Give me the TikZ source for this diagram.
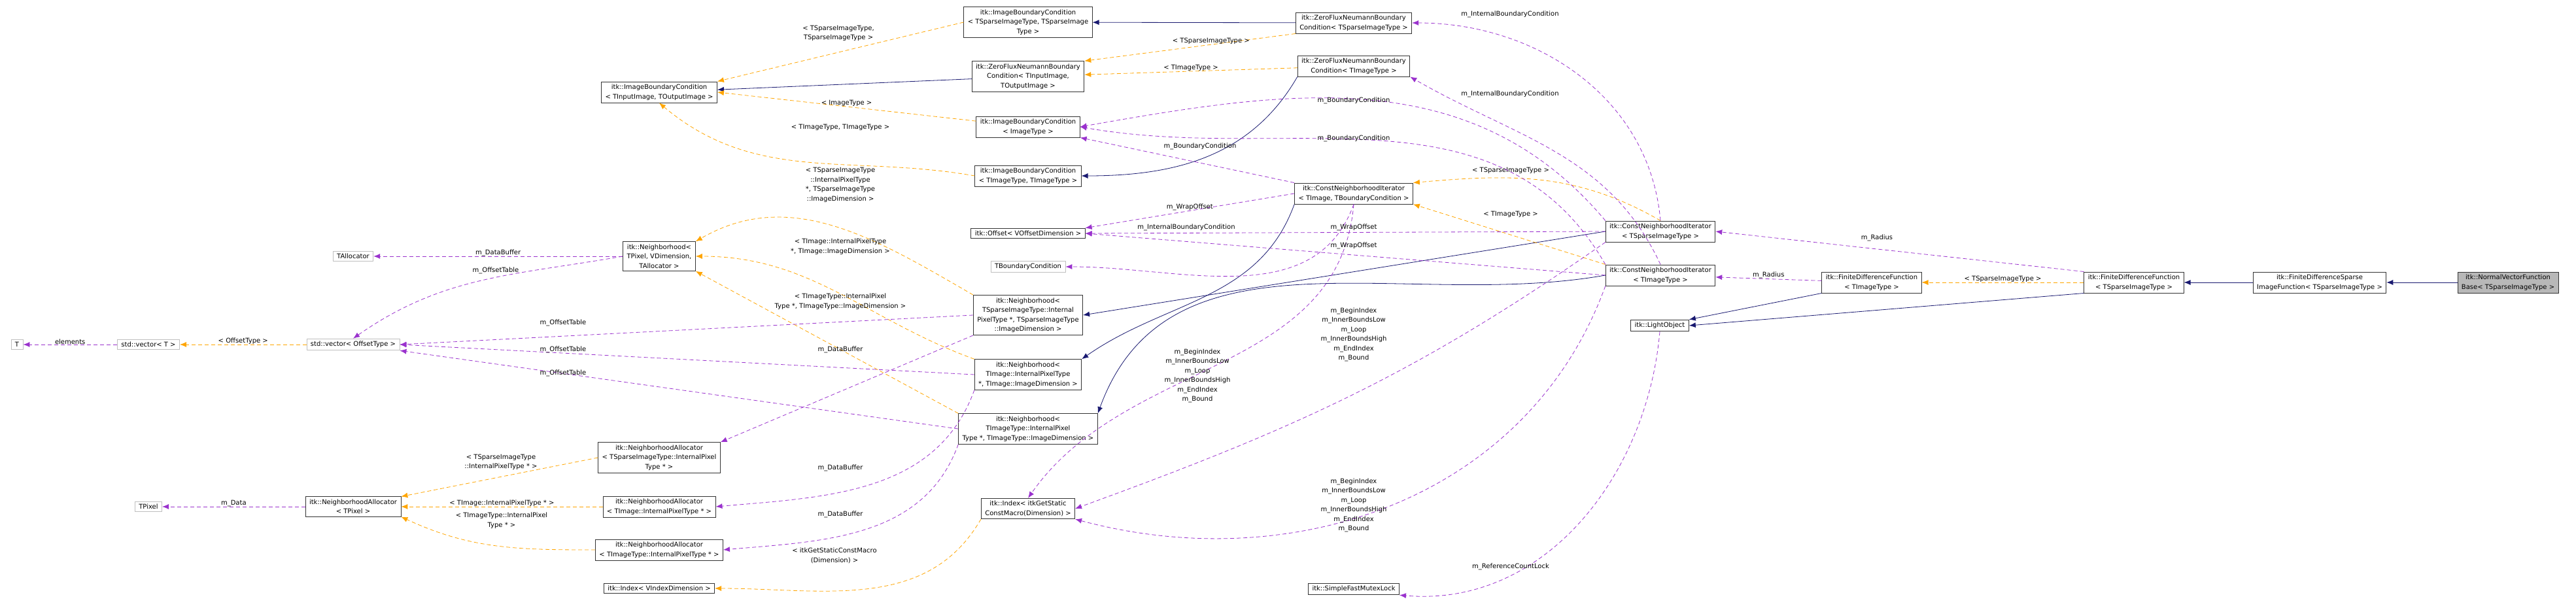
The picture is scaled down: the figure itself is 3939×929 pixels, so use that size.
\documentclass[tikz,border=0pt]{standalone}
\usepackage{fontspec}
\setmainfont{DejaVu Sans}
\usepackage{tikz}
\usepackage{xcolor}
\usetikzlibrary{arrows.meta,calc,shapes}
\definecolor{inherit}{HTML}{191970}
\definecolor{usage}{HTML}{9A32CD}
\definecolor{templ}{HTML}{FFA500}
\tikzset{every picture/.style={x=1pt,y=-1pt,>={Latex[length=10pt,width=8pt]},font=\fontsize{10}{14.5}\selectfont}}
\tikzstyle{cls} =
  [ rectangle
  , draw=black!80
  , thick
  , fill=white
  , align=center
  , inner xsep=6pt
  , inner ysep=4pt
  ]
\tikzstyle{ext} =
  [ cls
  , draw=black!25
  ]
\tikzstyle{self} =
  [ cls
  , fill=black!28
  ]
\tikzstyle{lbl} =
  [ align=center
  , inner sep=0pt
  , text=black
  ]
\tikzstyle{base} = [->, inherit, thick]
\tikzstyle{use}  = [->, usage, thick, dash pattern=on 6pt off 4pt]
\tikzstyle{tmpl} = [->, templ, thick, dash pattern=on 6pt off 4pt]

\begin{document}
\begin{tikzpicture}
    \useasboundingbox (0,0) rectangle (3939,929);
    % left column
    \node[ext] (t)          at (26, 527)  {T};
    \node[ext] (vec_t)      at (227, 527) {std::vector< T >};
    \node[ext] (vec_off)    at (540, 527) {std::vector< OffsetType >};
    \node[ext] (talloc)     at (540, 392) {TAllocator};
    \node[ext] (tpixel)     at (227, 775) {TPixel};
    \node[cls] (na_pixel)   at (540, 775) {itk::NeighborhoodAllocator\\< TPixel >};

    \node[cls] (ibc_io)     at (1008, 141) {itk::ImageBoundaryCondition\\< TInputImage, TOutputImage >};
    \node[cls] (nb_pixel)   at (1008, 392) {itk::Neighborhood<\\TPixel, VDimension,\\TAllocator >};
    \node[cls] (na_sparse)  at (1008, 700) {itk::NeighborhoodAllocator\\< TSparseImageType::InternalPixel\\Type * >};
    \node[cls] (na_image)   at (1008, 775) {itk::NeighborhoodAllocator\\< TImage::InternalPixelType * >};
    \node[cls] (na_imtype)  at (1008, 841) {itk::NeighborhoodAllocator\\< TImageType::InternalPixelType * >};
    \node[cls] (idx_v)      at (1008, 900) {itk::Index< VIndexDimension >};

    \node[cls] (ibc_sparse) at (1572, 34)  {itk::ImageBoundaryCondition\\< TSparseImageType, TSparseImage\\Type >};
    \node[cls] (zfn_io)     at (1572, 117) {itk::ZeroFluxNeumannBoundary\\Condition< TInputImage,\\TOutputImage >};
    \node[cls] (ibc_img)    at (1572, 194) {itk::ImageBoundaryCondition\\< ImageType >};
    \node[cls] (ibc_imtype) at (1572, 269) {itk::ImageBoundaryCondition\\< TImageType, TImageType >};
    \node[cls] (offset)     at (1572, 357) {itk::Offset< VOffsetDimension >};
    \node[ext] (tbc)        at (1572, 408) {TBoundaryCondition};
    \node[cls] (nb_sparse)  at (1572, 482) {itk::Neighborhood<\\TSparseImageType::Internal\\PixelType *, TSparseImageType\\::ImageDimension >};
    \node[cls] (nb_image)   at (1572, 573) {itk::Neighborhood<\\TImage::InternalPixelType\\*, TImage::ImageDimension >};
    \node[cls] (nb_imtype)  at (1572, 656) {itk::Neighborhood<\\TImageType::InternalPixel\\Type *, TImageType::ImageDimension >};
    \node[cls] (idx_dim)    at (1572, 778) {itk::Index< itkGetStatic\\ConstMacro(Dimension) >};

    \node[cls] (zfn_sparse) at (2070, 35)  {itk::ZeroFluxNeumannBoundary\\Condition< TSparseImageType >};
    \node[cls] (zfn_imtype) at (2070, 101) {itk::ZeroFluxNeumannBoundary\\Condition< TImageType >};
    \node[cls] (cni_bc)     at (2070, 296) {itk::ConstNeighborhoodIterator\\< TImage, TBoundaryCondition >};
    \node[cls] (mutex)      at (2070, 901) {itk::SimpleFastMutexLock};

    % right part
    \node[cls] (cni_sparse) at (2539, 354) {itk::ConstNeighborhoodIterator\\< TSparseImageType >};
    \node[cls] (cni_imtype) at (2539, 421) {itk::ConstNeighborhoodIterator\\< TImageType >};
    \node[cls] (light)      at (2538, 498) {itk::LightObject};
    \node[cls] (fdf_imtype) at (2862, 432) {itk::FiniteDifferenceFunction\\< TImageType >};
    \node[cls] (fdf_sparse) at (3263, 432) {itk::FiniteDifferenceFunction\\< TSparseImageType >};
    \node[cls] (fdsif)      at (3547, 432) {itk::FiniteDifferenceSparse\\ImageFunction< TSparseImageType >};
    \node[self] (nvfb)      at (3835, 432) {itk::NormalVectorFunction\\Base< TSparseImageType >};

    % inheritance
    \draw[base] (nvfb) -- (fdsif);
    \draw[base] (fdsif) -- (fdf_sparse);
    \draw[base] (fdf_sparse.south west) -- (light.east);
    \draw[base] (fdf_imtype.south west) -- (light.north east);
    \draw[base] (zfn_sparse) -- (ibc_sparse);
    \draw[base] (zfn_io) -- (ibc_io);
    \draw[base] (zfn_imtype.south west) to[out=240,in=0] (ibc_imtype.east);
    \draw[base] (cni_sparse.west) -- (nb_sparse.east);
    \draw[base] (cni_bc.south west) to[out=250,in=35] (nb_image.north east);
    \draw[base] (cni_imtype.west) to[out=190,in=70] (nb_imtype.north east);

    % template instances
    \draw[tmpl] (vec_off) -- node[lbl,above] (l_offtype) {< OffsetType >} (vec_t);
    \draw[tmpl] (na_sparse.west) -- (na_pixel.north east);
    \node[lbl] (l_na_sparse) at (766, 707) {< TSparseImageType\\::InternalPixelType * >};
    \draw[tmpl] (na_image) -- node[lbl,above] (l_na_image) {< TImage::InternalPixelType * >} (na_pixel);
    \draw[tmpl] (na_imtype.west) to[out=180,in=-25] (na_pixel.south east);
    \node[lbl] (l_na_imtype) at (767, 796) {< TImageType::InternalPixel\\Type * >};
    \draw[tmpl] (nb_sparse.north west) to[out=150,in=30] (nb_pixel.north east);
    \node[lbl] (l_nb_sparse) at (1285, 283) {< TSparseImageType\\::InternalPixelType\\*, TSparseImageType\\::ImageDimension >};
    \draw[tmpl] (nb_image.north west) to[out=160,in=0] (nb_pixel.east);
    \node[lbl] (l_nb_image) at (1285, 377) {< TImage::InternalPixelType\\*, TImage::ImageDimension >};
    \draw[tmpl] (nb_imtype.north west) -- (nb_pixel.south east);
    \node[lbl] (l_nb_imtype) at (1285, 461) {< TImageType::InternalPixel\\Type *, TImageType::ImageDimension >};
    \draw[tmpl] (ibc_sparse.west) -- (ibc_io.north east);
    \node[lbl] (l_ibc_sparse) at (1282, 51) {< TSparseImageType,\\TSparseImageType >};
    \draw[tmpl] (ibc_img) -- node[lbl,above] (l_ibc_img) {< ImageType >} (ibc_io.east);
    \draw[tmpl] (ibc_imtype.west) to[out=170,in=-40] (ibc_io.south);
    \node[lbl] (l_ibc_imtype) at (1285, 195) {< TImageType, TImageType >};
    \draw[tmpl] (zfn_sparse.south west) -- node[lbl,above,pos=0.4] (l_zfn_sparse) {< TSparseImageType >} (zfn_io.north east);
    \draw[tmpl] (zfn_imtype) -- node[lbl,above] (l_zfn_imtype) {< TImageType >} (zfn_io);
    \draw[tmpl] (cni_sparse.north) to[out=150,in=5] (cni_bc.north east);
    \node[lbl] (l_cni_sparse) at (2310, 261) {< TSparseImageType >};
    \draw[tmpl] (cni_imtype.north west) -- (cni_bc.south east);
    \node[lbl] (l_cni_imtype) at (2310, 328) {< TImageType >};
    \draw[tmpl] (idx_dim.south west) to[out=240,in=0] (idx_v.east);
    \node[lbl] (l_idx_dim) at (1276, 850) {< itkGetStaticConstMacro\\(Dimension) >};
    \draw[tmpl] (fdf_sparse) -- node[lbl,above] (l_fdf_sparse) {< TSparseImageType >} (fdf_imtype);

    % members
    \draw[use] (na_pixel) -- node[lbl,above] (l_data) {m\_Data} (tpixel);
    \draw[use] (vec_t) -- node[lbl,above] (l_elem) {elements} (t);
    \draw[use] (nb_pixel) -- node[lbl,above] (l_buf0) {m\_DataBuffer} (talloc);
    \draw[use] (nb_pixel.west) to[out=190,in=35] (vec_off.north);
    \node[lbl] (l_off0) at (758, 414) {m\_OffsetTable};
    \draw[use] (nb_sparse.west) -- (vec_off.east);
    \node[lbl] (l_off1) at (861, 494) {m\_OffsetTable};
    \draw[use] (nb_image.west) -- (vec_off.east);
    \node[lbl] (l_off2) at (861, 535) {m\_OffsetTable};
    \draw[use] (nb_imtype.west) -- (vec_off.south east);
    \node[lbl] (l_off3) at (861, 571) {m\_OffsetTable};
    \draw[use] (nb_sparse.south west) -- (na_sparse.north east);
    \node[lbl] (l_buf1) at (1285, 535) {m\_DataBuffer};
    \draw[use] (nb_image.south west) to[out=250,in=5] (na_image.east);
    \node[lbl] (l_buf2) at (1285, 716) {m\_DataBuffer};
    \draw[use] (nb_imtype.south west) to[out=250,in=5] (na_imtype.east);
    \node[lbl] (l_buf3) at (1285, 787) {m\_DataBuffer};

    \draw[use] (cni_bc.north west) -- (ibc_img.south east);
    \node[lbl] (l_bc0) at (1835, 224) {m\_BoundaryCondition};
    \draw[use] (cni_bc.west) -- node[lbl,above] (l_wrap0) {m\_WrapOffset} (offset.north east);
    \draw[use] (cni_bc.south) to[out=250,in=0] (tbc.east);
    \node[lbl] (l_ibc) at (1814, 348) {m\_InternalBoundaryCondition};
    \draw[use] (cni_bc.south) to[out=265,in=55] (idx_dim.north);
    \node[lbl] (l_idx0) at (1831, 575) {m\_BeginIndex\\m\_InnerBoundsLow\\m\_Loop\\m\_InnerBoundsHigh\\m\_EndIndex\\m\_Bound};

    \draw[use] (cni_sparse.north) to[out=95,in=0] (zfn_sparse.east);
    \node[lbl] (l_ibc1) at (2309, 22) {m\_InternalBoundaryCondition};
    \draw[use] (cni_imtype.north) to[out=115,in=-30] (zfn_imtype.south east);
    \node[lbl] (l_ibc2) at (2309, 144) {m\_InternalBoundaryCondition};
    \draw[use] (cni_sparse.north west) to[out=130,in=10] (ibc_img.east);
    \node[lbl] (l_bc1) at (2070, 154) {m\_BoundaryCondition};
    \draw[use] (cni_imtype.north west) to[out=120,in=-10] (ibc_img.east);
    \node[lbl] (l_bc2) at (2070, 212) {m\_BoundaryCondition};
    \draw[use] (cni_sparse.west) -- (offset.east);
    \node[lbl] (l_wrap1) at (2070, 348) {m\_WrapOffset};
    \draw[use] (cni_imtype.west) -- (offset.east);
    \node[lbl] (l_wrap2) at (2070, 376) {m\_WrapOffset};
    \draw[use] (cni_sparse.south west) to[out=215,in=20] (idx_dim.east);
    \node[lbl] (l_idx1) at (2070, 512) {m\_BeginIndex\\m\_InnerBoundsLow\\m\_Loop\\m\_InnerBoundsHigh\\m\_EndIndex\\m\_Bound};
    \draw[use] (cni_imtype.south west) to[out=250,in=-15] (idx_dim.south east);
    \node[lbl] (l_idx2) at (2070, 773) {m\_BeginIndex\\m\_InnerBoundsLow\\m\_Loop\\m\_InnerBoundsHigh\\m\_EndIndex\\m\_Bound};

    \draw[use] (fdf_sparse.north west) -- (cni_sparse.east);
    \node[lbl] (l_rad1) at (2870, 364) {m\_Radius};
    \draw[use] (fdf_imtype) -- node[lbl,above] (l_rad2) {m\_Radius} (cni_imtype);
    \draw[use] (light.south) to[out=265,in=-5] (mutex.south east);
    \node[lbl] (l_lock) at (2310, 867) {m\_ReferenceCountLock};
\end{tikzpicture}
\end{document}
